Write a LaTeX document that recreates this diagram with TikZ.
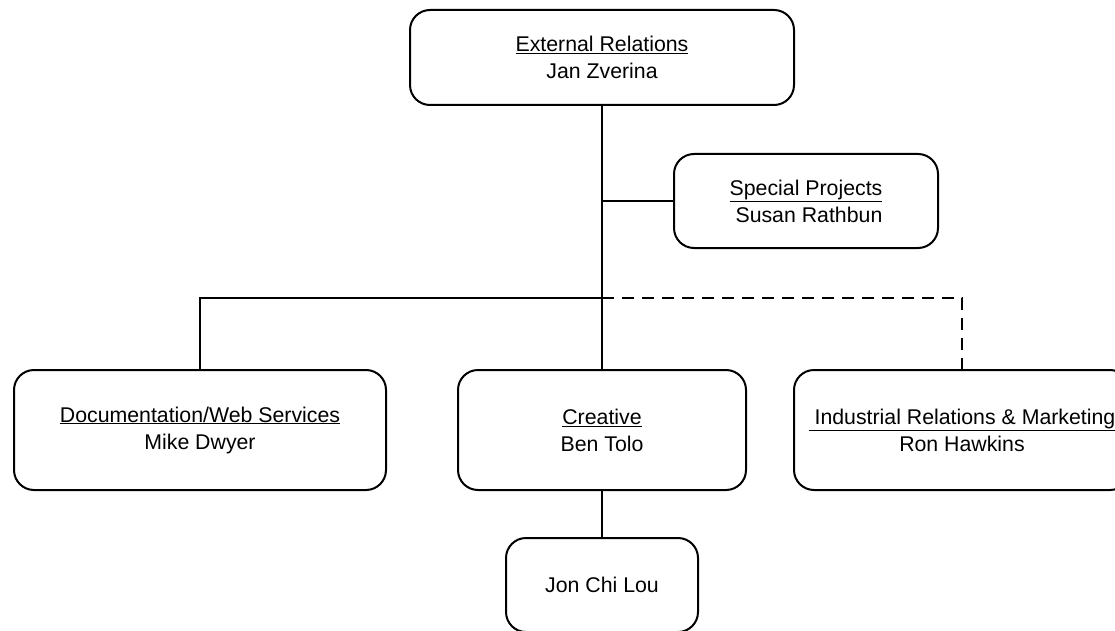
\documentclass[tikz,border=0pt]{standalone}
\usepackage{fontspec}
\setmainfont{Liberation Sans}
\usepackage{tikz}
\usetikzlibrary{positioning}

\begin{document}
\begin{tikzpicture}[x=1pt, y=-1pt, line width=2pt,
  unit/.style={draw, rounded corners=20pt, align=center, inner sep=0pt,
    font=\fontsize{21.3}{27}\selectfont}]
\useasboundingbox (0,0) rectangle (1115,631);
\node [unit, minimum width=384pt, minimum height=95pt] (ext) at (602,57.5)
  {\underline{External Relations}\\Jan Zverina};
\node [unit, minimum width=264pt, minimum height=94pt] (spec) at (806,201)
  {\underline{Special Projects}\\\ Susan Rathbun};
\node [unit, minimum width=372pt, minimum height=120pt] (doc) at (200,430)
  {\underline{Documentation/Web Services}\\Mike Dwyer};
\node [unit, minimum width=288pt, minimum height=120pt] (cre) at (602,430)
  {\underline{Creative}\\Ben Tolo};
\node [unit, minimum width=336pt, minimum height=120pt] (ind) at (962,430)
  {\underline{\ Industrial Relations \& Marketing}\\Ron Hawkins};
\node [unit, minimum width=192pt, minimum height=94pt] (jon) at (602,585)
  {Jon Chi Lou};
\coordinate (bus) at (602,298);
\draw (ext) -- (cre);
\draw (ext.south |- spec.west) -- (spec.west);
\draw (doc.north) |- (bus);
\draw [dash pattern=on 12pt off 8pt] (bus) -| (ind.north);
\draw (cre) -- (jon);
\end{tikzpicture}
\end{document}
